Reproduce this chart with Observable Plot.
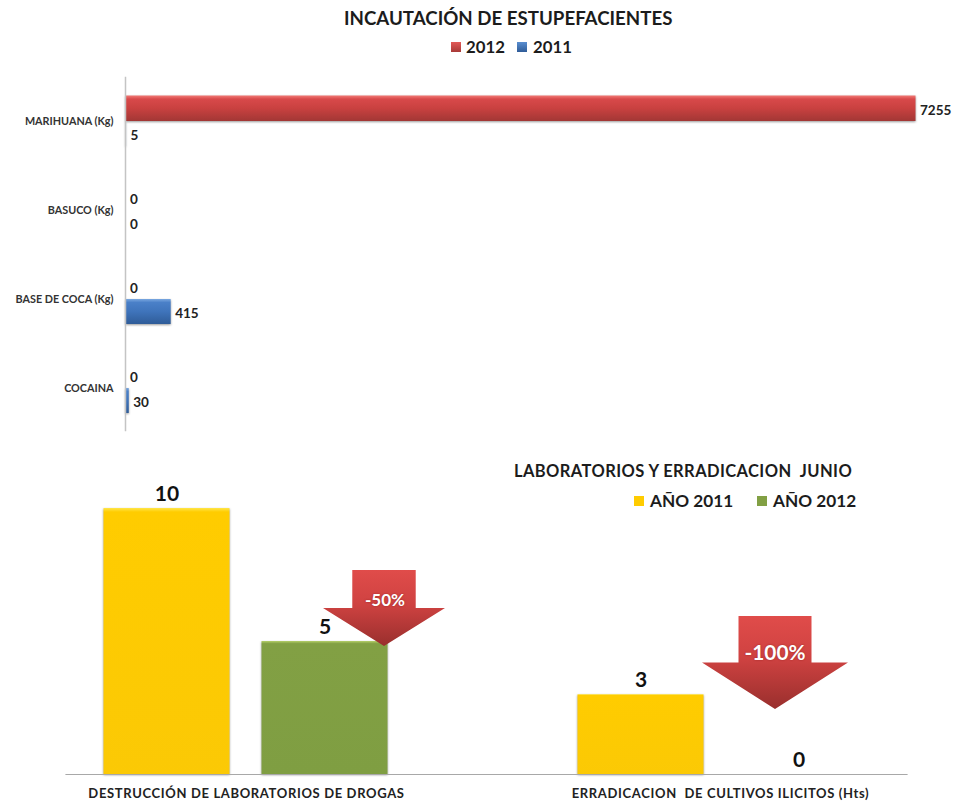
<!DOCTYPE html>
<html lang="es">
<head>
<meta charset="utf-8">
<script src="https://cdn.jsdelivr.net/npm/d3@7"></script>
<script src="https://cdn.jsdelivr.net/npm/@observablehq/plot@0.6"></script>
<style>
html,body{margin:0;padding:0;background:#fff;width:965px;height:804px;overflow:hidden}
body{position:relative;font-family:Lato,"Open Sans",sans-serif;color:#1c1c1c}
#top,#bottom{position:absolute;left:0}
#top{top:0}#bottom{top:440px}
svg text{white-space:pre}
svg g[fill^="url"]{filter:drop-shadow(0 1px 1px rgba(0,0,0,.4))}
#bottom g[aria-label*="tick label"]{letter-spacing:.65px}
.t{position:absolute;font-weight:700;white-space:pre;line-height:1}
.s{position:absolute;width:10px;height:10px}
.arrow{position:absolute;background:linear-gradient(#e04c4a 0%,#cf4241 45%,#992f2d 100%)}
.lab{position:absolute;color:#fff;font-weight:700;text-align:center;line-height:1;text-shadow:0 0 2px rgba(120,20,20,.6)}
</style>
</head>
<body>
<svg width="0" height="0" style="position:absolute">
<defs>
<linearGradient id="gRed" x1="0" y1="0" x2="0" y2="1"><stop offset="0" stop-color="#f27a76"/><stop offset=".14" stop-color="#d8494a"/><stop offset=".5" stop-color="#c94140"/><stop offset="1" stop-color="#a23735"/></linearGradient>
<linearGradient id="gBlue" x1="0" y1="0" x2="0" y2="1"><stop offset="0" stop-color="#7aa8e0"/><stop offset=".14" stop-color="#4a80c8"/><stop offset=".5" stop-color="#3f74bb"/><stop offset="1" stop-color="#2f5c98"/></linearGradient>
<linearGradient id="gYellow" x1="0" y1="0" x2="0" y2="1"><stop offset="0" stop-color="#ffe64a"/><stop offset=".015" stop-color="#ffcc00"/><stop offset="1" stop-color="#fbc905"/></linearGradient>
<linearGradient id="gGreen" x1="0" y1="0" x2="0" y2="1"><stop offset="0" stop-color="#b6d06a"/><stop offset=".02" stop-color="#82a044"/><stop offset="1" stop-color="#7f9e42"/></linearGradient>
</defs>
</svg>
<div id="top"></div>
<div id="bottom"></div>
<div class="t" style="left:344px;top:9px;font-size:18.7px">INCAUTACIÓN DE ESTUPEFACIENTES</div>
<div class="s" style="left:451px;top:42px;background:linear-gradient(#e25a58,#a83a38)"></div>
<div class="t" style="left:466px;top:39px;font-size:16.8px">2012</div>
<div class="s" style="left:517px;top:42px;background:linear-gradient(#5a8ed0,#2f5c98)"></div>
<div class="t" style="left:533px;top:39px;font-size:16.8px">2011</div>
<div class="t" style="left:514px;top:463px;font-size:16.5px;letter-spacing:.4px">LABORATORIOS Y ERRADICACION  JUNIO</div>
<div class="s" style="left:634px;top:496px;background:#ffcc00"></div>
<div class="t" style="left:650px;top:492px;font-size:17.2px">AÑO 2011</div>
<div class="s" style="left:757px;top:496px;background:#82a044"></div>
<div class="t" style="left:773px;top:492px;font-size:17.2px">AÑO 2012</div>
<div class="arrow" style="left:323px;top:570px;width:122px;height:76px;clip-path:polygon(24% 0,76% 0,76% 50%,100% 50%,50% 100%,0 50%,24% 50%)"></div>
<div class="lab" style="left:341px;top:591px;width:88px;font-size:17px">-50%</div>
<div class="arrow" style="left:702px;top:616px;width:146px;height:93px;clip-path:polygon(25% 0,75% 0,75% 50%,100% 50%,50% 100%,0 50%,25% 50%)"></div>
<div class="lab" style="left:725px;top:642px;width:100px;font-size:20.8px">-100%</div>
<script>
const seizureCategories = ["MARIHUANA (Kg)", "BASUCO (Kg)", "BASE DE COCA (Kg)", "COCAINA"];
const seizureYears = ["2012", "2011"];
const seizures2012 = [7255, 0, 0, 0];
const seizures2011 = [5, 0, 415, 30];

const labGroups = ["DESTRUCCIÓN DE LABORATORIOS DE DROGAS", "ERRADICACION  DE CULTIVOS ILICITOS (Hts)"];
const labYears = ["2011", "2012"];
const labs2011 = [10, 3];
const labs2012 = [5, 0];

const topRows = seizureCategories.flatMap((c, i) => [
  {cat: c, year: "2012", value: seizures2012[i]},
  {cat: c, year: "2011", value: seizures2011[i]}
]);
const topPlot = Plot.plot({
  width: 965, height: 440,
  marginLeft: 125.5, marginRight: 49.5, marginTop: 76, marginBottom: 6,
  style: {fontFamily: "Lato, 'Open Sans', sans-serif", background: "transparent"},
  x: {domain: [0, 7255], axis: null},
  y: {domain: seizureYears, axis: null, paddingInner: 0.04, paddingOuter: 0.76},
  fy: {domain: seizureCategories, padding: 0, label: null},
  marks: [
    Plot.barX(topRows.filter(d => d.year === "2012"), {x: "value", y: "year", fy: "cat", fill: "url(#gRed)", insetTop: -1.5}),
    Plot.barX(topRows.filter(d => d.year === "2011"), {x: "value", y: "year", fy: "cat", fill: "url(#gBlue)", insetTop: -1}),
    Plot.frame({anchor: "left", stroke: "#c4c4c4", strokeWidth: 1.5, facet: "super", insetBottom: 3, insetLeft: -0.5}),
    Plot.text(topRows, {x: "value", y: "year", fy: "cat", text: d => String(d.value), textAnchor: "start", dx: 4, dy: 1, fontSize: 13.5, fontWeight: 700, fill: "#222"}),
    Plot.axisFy({anchor: "left", tickSize: 0, tickPadding: 12.5, fontSize: 10.8, fontWeight: 700, fill: "#333", label: null})
  ]
});
document.getElementById("top").append(topPlot);

const labRows = labGroups.flatMap((g, i) => [
  {group: g, year: "2011", value: labs2011[i]},
  {group: g, year: "2012", value: labs2012[i]}
]);
const labPlot = Plot.plot({
  width: 965, height: 364,
  marginLeft: 63.5, marginRight: 62.5, marginTop: 68, marginBottom: 30,
  style: {fontFamily: "Lato, 'Open Sans', sans-serif", background: "transparent"},
  x: {domain: labYears, axis: null, paddingInner: 0.2, paddingOuter: 0.1},
  y: {domain: [0, 10], axis: null},
  fx: {domain: labGroups, paddingInner: 0.334, paddingOuter: 0.052, label: null},
  marks: [
    Plot.barY(labRows.filter(d => d.year === "2011"), {x: "year", y: "value", fx: "group", fill: "url(#gYellow)"}),
    Plot.barY(labRows.filter(d => d.year === "2012"), {x: "year", y: "value", fx: "group", fill: "url(#gGreen)"}),
    Plot.frame({anchor: "bottom", stroke: "#a8a8a8", strokeWidth: 1.2, facet: "super", insetLeft: -22.5, insetRight: -28.5}),
    Plot.text(labRows, {x: "year", y: "value", fx: "group", text: d => String(d.value), dy: -14, fontSize: 21, fontWeight: 700, fill: "#111"}),
    Plot.axisFx({anchor: "bottom", tickSize: 0, tickPadding: 14, fontSize: 13, fontWeight: 700, fill: "#222", label: null})
  ]
});
document.getElementById("bottom").append(labPlot);
</script>
</body>
</html>
